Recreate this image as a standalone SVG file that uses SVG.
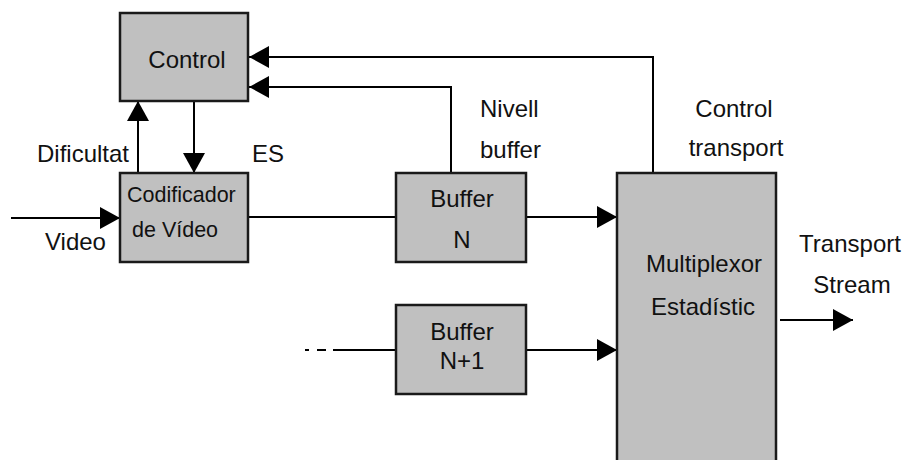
<svg xmlns="http://www.w3.org/2000/svg" width="904" height="460" viewBox="0 0 904 460">
<style>
.box{fill:#c0c0c0;stroke:#1a1a1a;stroke-width:2.5}
.ln{fill:none;stroke:#000;stroke-width:2}
.t{font-family:"Liberation Sans",Arial,sans-serif;font-size:24px;fill:#111}
.s{font-size:21.5px}
.m{text-anchor:middle}
</style>
<defs>
<marker id="ah" markerUnits="userSpaceOnUse" markerWidth="22" markerHeight="24" refX="21" refY="12" orient="auto">
<path d="M1,1 L21,12 L1,23 z" fill="#000"/>
</marker>
</defs>
<rect width="904" height="460" fill="#fff"/>
<g id="connectors">
<path class="ln" d="M11,218 H120" marker-end="url(#ah)"/>
<path class="ln" d="M138,173 V101" marker-end="url(#ah)"/>
<path class="ln" d="M194,101 V173" marker-end="url(#ah)"/>
<path class="ln" d="M248,217 H396"/>
<path class="ln" d="M526,217 H617" marker-end="url(#ah)"/>
<path class="ln" d="M451,173 V87 H249" marker-end="url(#ah)"/>
<path class="ln" d="M653,173 V57 H249" marker-end="url(#ah)"/>
<path class="ln" d="M305,350 H309 M317,350 H326 M333,350 H396"/>
<path class="ln" d="M526,350 H617" marker-end="url(#ah)"/>
<path class="ln" d="M780,320 H853" marker-end="url(#ah)"/>
</g>
<g id="control">
<rect class="box" x="120" y="13" width="128" height="88"/>
<text class="t m" x="187" y="68">Control</text>
</g>
<g id="codificador">
<rect class="box" x="120" y="173" width="128" height="89"/>
<text class="t s" x="127" y="202">Codificador</text>
<text class="t s" x="132" y="237">de Vídeo</text>
</g>
<g id="bufferN">
<rect class="box" x="396" y="173" width="130" height="89"/>
<text class="t m" x="462" y="207">Buffer</text>
<text class="t m" x="462" y="248">N</text>
</g>
<g id="bufferN1">
<rect class="box" x="396" y="305" width="130" height="89"/>
<text class="t m" x="462" y="340">Buffer</text>
<text class="t m" x="462" y="369">N+1</text>
</g>
<g id="multiplexor">
<rect class="box" x="617" y="173" width="159" height="300"/>
<text class="t m" x="704" y="272">Multiplexor</text>
<text class="t m" x="703" y="315">Estadístic</text>
</g>
<g id="labels">
<text class="t" x="37" y="162">Dificultat</text>
<text class="t" x="252" y="162">ES</text>
<text class="t" x="45" y="250">Video</text>
<text class="t" x="480" y="117">Nivell</text>
<text class="t" x="480" y="158">buffer</text>
<text class="t m" x="734" y="117">Control</text>
<text class="t m" x="736" y="156">transport</text>
<text class="t m" x="850" y="252">Transport</text>
<text class="t m" x="852" y="293">Stream</text>
</g>
</svg>
